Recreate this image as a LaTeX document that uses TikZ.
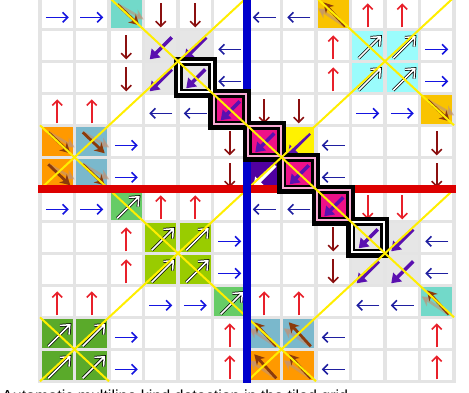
\documentclass[tikz,border=0pt]{standalone}
\usepackage{fontspec}
\setmainfont{Liberation Sans}
\usetikzlibrary{arrows.meta,calc}
\definecolor{gridgray}{HTML}{E4E4E4}
\definecolor{cteal}{HTML}{72D9C9}
\definecolor{cgold}{HTML}{F9C300}
\definecolor{cgray}{HTML}{E6E6E6}
\definecolor{ccyan}{HTML}{9AFCFC}
\definecolor{corange}{HTML}{FF9900}
\definecolor{csteel}{HTML}{7AB8CC}
\definecolor{cmag}{HTML}{EE1188}
\definecolor{cyel}{HTML}{FFF200}
\definecolor{cpurp}{HTML}{5000A0}
\definecolor{cgreen}{HTML}{66CC66}
\definecolor{cygreen}{HTML}{99CC00}
\definecolor{cdgreen}{HTML}{5AAA2A}
\definecolor{ablue}{HTML}{1515E0}
\definecolor{anavy}{HTML}{1F1FA0}
\definecolor{ared}{HTML}{E8202A}
\definecolor{adred}{HTML}{8B1010}
\definecolor{abrown}{HTML}{8B3A0A}
\definecolor{apurp}{HTML}{5A10B0}
\definecolor{lyellow}{HTML}{FFEE00}
\definecolor{lred}{HTML}{DD0000}
\definecolor{lblue}{HTML}{0000CC}
\tikzset{
  txtarrow/.style={line width=1.6pt, -{Straight Barb[length=5pt,width=10pt]}},
  purparrow/.style={line width=3.5pt, -{Triangle[length=9pt,width=12pt]}},
  brownarrow/.style={draw=abrown, line width=2.8pt, -{Stealth[length=10pt,width=11pt]}},
  hollowarrow/.style={double=white, double distance=1.5pt, line width=0.75pt, line join=miter},
  yline/.style={draw=lyellow, line width=2pt},
}
\begin{document}
\begin{tikzpicture}[x=1pt,y=-1pt]
\useasboundingbox (0,0) rectangle (469,392);
\clip (0,0) rectangle (469,392);
\fill[white] (0,0) rectangle (469,392);
\fill[gridgray] (38.4,-5) rectangle (455.6,382.9);
% plain cells
\foreach \c in {0,...,11} \foreach \r in {0,...,11} {
  \fill[white] ({40+34.5*\c+1.6},{-2.7+32*\r+1.6}) rectangle ({40+34.5*\c+32.9},{-2.7+32*\r+30.4});
}
% coloured cells
\foreach \c/\r/\col in {2/0/cteal,11/9/cteal,8/0/cgold,11/3/cgold,
  3/1/cgray,4/1/cgray,3/2/cgray,10/7/cgray,9/8/cgray,10/8/cgray,
  9/1/ccyan,10/1/ccyan,9/2/ccyan,10/2/ccyan,
  0/4/corange,0/5/corange,6/11/corange,7/11/corange,
  1/4/csteel,1/5/csteel,6/10/csteel,7/10/csteel,
  7/4/cyel,6/5/cpurp,2/6/cgreen,5/9/cgreen,
  3/7/cygreen,4/7/cygreen,3/8/cygreen,4/8/cygreen,
  0/10/cdgreen,1/10/cdgreen,0/11/cdgreen,1/11/cdgreen} {
  \fill[\col] ({40+34.5*\c+1.6},{-2.7+32*\r+1.6}) rectangle ({40+34.5*\c+32.9},{-2.7+32*\r+30.4});
}
% text-like arrows
\foreach \c/\r in {0/0,1/0,11/1,11/2,9/3,10/3,2/4,2/5,0/6,1/6,5/7,5/8,3/9,4/9,2/10,2/11}
  \draw[txtarrow,ablue] ({57.25+34.5*\c-11.5},{17.3+32*\r}) -- ++(23,0);
\foreach \c/\r in {6/0,7/0,5/1,5/2,3/3,4/3,8/4,8/5,6/6,7/6,11/7,11/8,9/9,10/9,8/10,8/11}
  \draw[txtarrow,anavy] ({57.25+34.5*\c+11.5},{17.3+32*\r}) -- ++(-23,0);
\foreach \c/\r in {9/0,10/0,8/1,8/2,0/3,1/3,3/6,4/6,2/7,2/8,0/9,1/9,6/9,7/9,5/10,5/11,11/10,11/11}
  \draw[txtarrow,ared] ({57.25+34.5*\c},{15.3+32*\r+12}) -- ++(0,-24);
\foreach \c/\r in {3/0,4/0,2/1,2/2,6/3,7/3,5/4,5/5,11/4,11/5,8/7,8/8}
  \draw[txtarrow,adred] ({57.25+34.5*\c},{15.3+32*\r-12}) -- ++(0,24);
\foreach \c/\r in {9/6,10/6}
  \draw[txtarrow,ared] ({57.25+34.5*\c},{15.3+32*\r-12}) -- ++(0,24);
% purple arrows
\foreach \c/\r in {3/1,4/1,3/2,10/7,9/8,10/8,7/4}
  \draw[purparrow,apurp] ({57.25+34.5*\c+11},{13.3+32*\r-8}) -- ++(-22,22);
\draw[purparrow,white] ({57.25+34.5*6+11},{13.3+32*5-8}) -- ++(-22,22);
% brown arrows
\foreach \c/\r in {2/0,11/3,0/4,1/4,0/5,1/5} {
  \coordinate (T) at ({57.25+34.5*\c-9},{13.3+32*\r-9});
  \coordinate (H) at ({57.25+34.5*\c+13},{13.3+32*\r+12});
  \draw[brownarrow, draw=abrown!55!white, opacity=.6] (T) -- ($(T)!1!14:(H)$);
  \draw[brownarrow] (T) -- (H);
}
\foreach \c/\r in {8/0,11/9,6/10,7/10,6/11,7/11} {
  \coordinate (T) at ({57.25+34.5*\c+12},{13.3+32*\r+13});
  \coordinate (H) at ({57.25+34.5*\c-10},{13.3+32*\r-11});
  \draw[brownarrow, draw=abrown!55!white, opacity=.6] (T) -- ($(T)!1!14:(H)$);
  \draw[brownarrow] (T) -- (H);
}
% hollow arrows
\foreach \c/\r in {9/1,10/1,9/2,10/2,2/6,3/7,4/7,3/8,4/8,5/9,0/10,1/10,0/11,1/11} {
  \begin{scope}[shift={({57.25+34.5*\c-9},{13.3+32*\r+13})}, rotate=45]
    \draw[hollowarrow] (0,0) -- (29,0) (23,-6.5) -- (30.5,0) -- (23,6.5);
  \end{scope}
}
% yellow lines (under red and blue)
\draw[yline] (40,381.3) -- (454,-2.7);
\draw[yline] (40,189.3) -- (247,-2.7);
\draw[yline] (247,381.3) -- (454,189.3);
\draw[yline] (109,-2.7) -- (454,317.3);
\draw[yline] (40,125.3) -- (316,381.3);
\draw[yline] (40,317.3) -- (109,381.3);
\draw[yline] (316,-2.7) -- (454,125.3);
% red and blue lines
\draw[lred, line width=7.5pt] (38,189) -- (456,189);
\draw[lblue, line width=7.4pt] (247,-5) -- (247,382.6);
% boxed diagonal
\foreach \c/\r in {4/2,5/3,6/4,7/5,8/6,9/7}
  \draw[black, line width=4.4pt] ({40+34.5*\c-2.2},{-2.7+32*\r-2.2}) rectangle ({40+34.5*\c+36.7},{-2.7+32*\r+34.2});
\foreach \c/\r/\col/\gap in {4/2/cgray/white,5/3/cmag/cmag!35!white,6/4/cmag/cmag!35!white,7/5/cmag/cmag!35!white,8/6/cmag/cmag!35!white,9/7/cgray/white} {
  \fill[\gap] ({40+34.5*\c},{-2.7+32*\r}) rectangle ({40+34.5*\c+34.5},{-2.7+32*\r+32});
  \fill[\col] ({40+34.5*\c+2},{-2.7+32*\r+2}) rectangle ({40+34.5*\c+32.5},{-2.7+32*\r+30});
  \draw[black, line width=2.7pt] ({40+34.5*\c+3.35},{-2.7+32*\r+3.35}) rectangle ({40+34.5*\c+31.15},{-2.7+32*\r+28.65});
  \draw[purparrow,apurp] ({57.25+34.5*\c+10},{13.3+32*\r-8}) -- ++(-19,19);
}
% yellow lines over the boxes
\begin{scope}
\clip foreach \c/\r in {4/2,5/3,6/4,7/5,8/6,9/7} {({40+34.5*\c-4.5},{-2.7+32*\r-4.5}) rectangle ({40+34.5*\c+39},{-2.7+32*\r+36.5})};
\draw[yline] (40,381.3) -- (454,-2.7);
\draw[yline] (40,189.3) -- (247,-2.7);
\draw[yline] (247,381.3) -- (454,189.3);
\draw[yline] (109,-2.7) -- (454,317.3);
\end{scope}
% caption (cut by the lower edge, as in the reference)
\node[anchor=base west, inner sep=0pt, font=\fontsize{16}{19}\selectfont] (cap) at (2,401.5) {Automatic multiline kind detection in the tiled grid};
\end{tikzpicture}
\end{document}
